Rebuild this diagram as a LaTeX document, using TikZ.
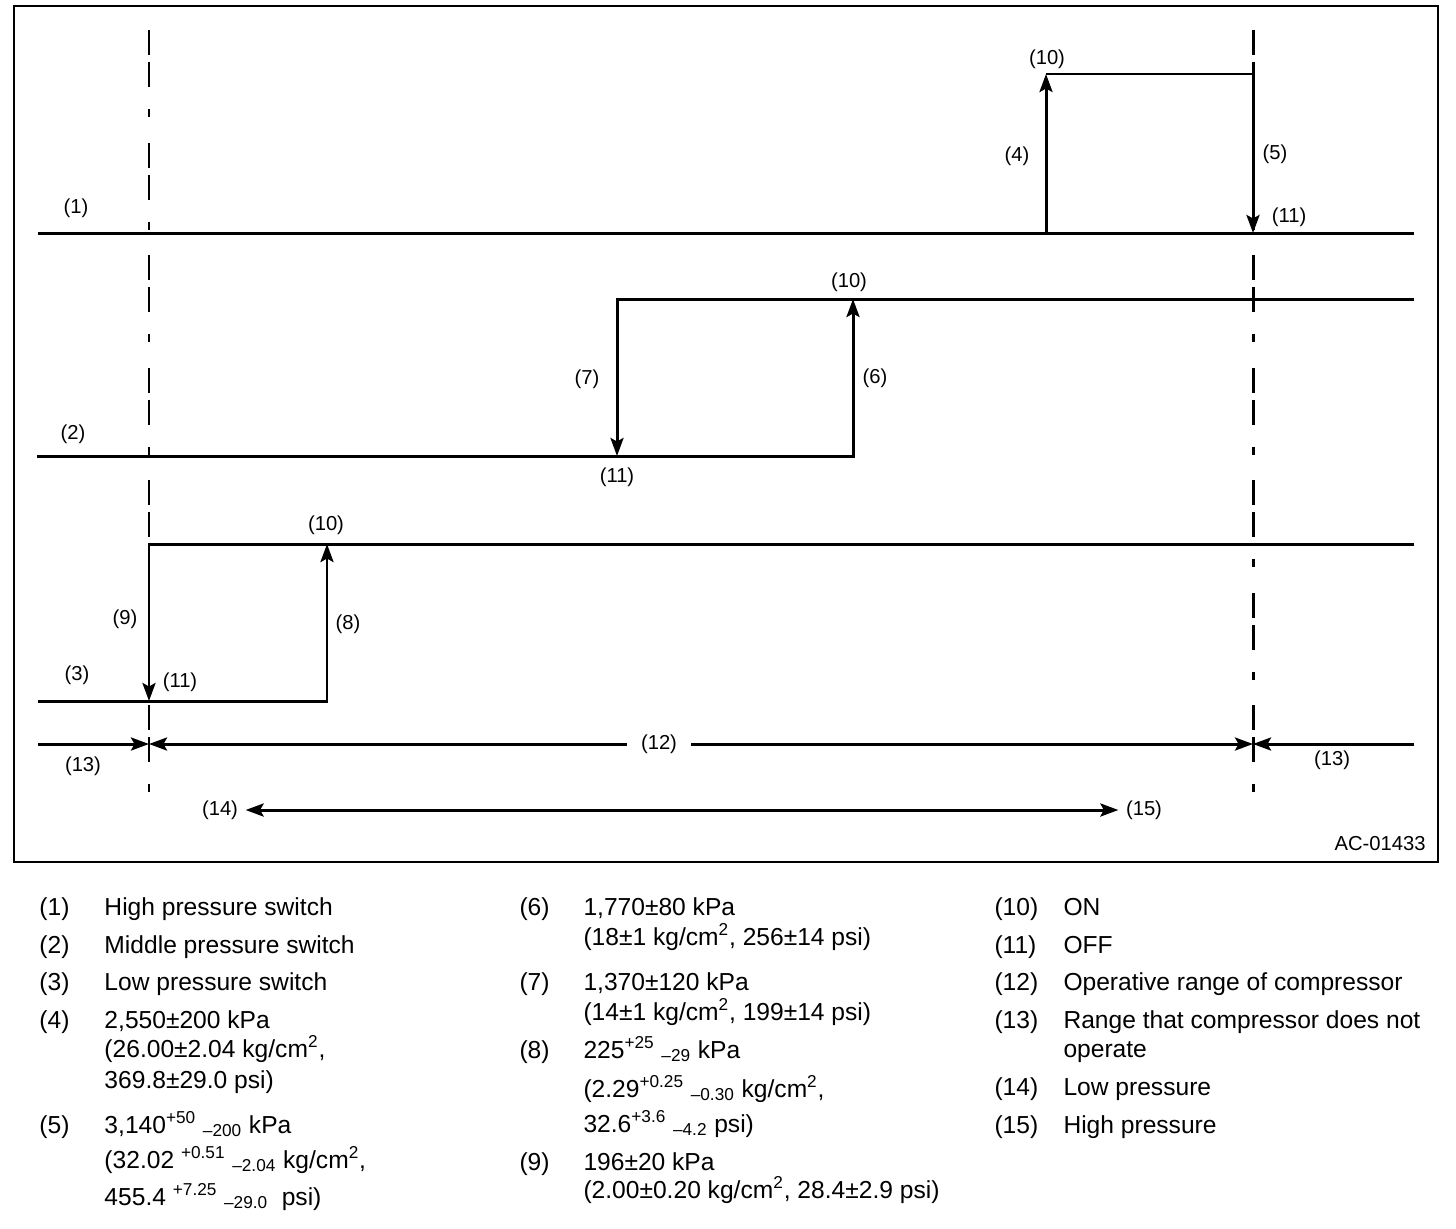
\documentclass[tikz,border=0pt]{standalone}
\usepackage{fontspec}
\setmainfont{Liberation Sans}
\usetikzlibrary{arrows.meta}

\begin{document}
\begin{tikzpicture}[
  x=0.02cm, y=-0.02cm,
  line width=1.7pt,
  >={Stealth[length=3.6mm, width=2.6mm, inset=0.7mm]},
  lbl/.style={font=\fontsize{11.5}{13}\selectfont, inner sep=1pt},
  leg/.style={anchor=base west, inner sep=0pt, font=\fontsize{14}{16}\selectfont},
  axisline/.style={dash pattern=on 5mm off 1.4mm on 5mm off 4.4mm on 1.6mm off 5.12mm},
]
\useasboundingbox (0,0) rectangle (1456,1228);
\draw[line width=1.2pt] (14,6) rectangle (1438,862);

% dash-dot limits of the operative range
\coordinate (a0) at (149,30);  \coordinate (a1) at (149,797);
\coordinate (b0) at (1253,30); \coordinate (b1) at (1253,797);
\draw[axisline] (a0) -- (a1);
\draw[axisline] (b0) -- (b1);

% high pressure switch
\coordinate (h0) at (38,233);    \coordinate (h1) at (1414,233);
\coordinate (hUp) at (1046,233); \coordinate (hOn) at (1046,74);
\coordinate (hOff) at (1253,74); \coordinate (hDn) at (1253,233);
\draw (h0) -- (h1);
\draw[->] (hUp) -- (hOn);
\draw[->] (hOn) -- (hOff) -- (hDn);

% middle pressure switch
\coordinate (m0) at (37,456);    \coordinate (mUp) at (853,456);
\coordinate (mOn) at (853,299);  \coordinate (mTop) at (1414,299);
\coordinate (mOff) at (617,299); \coordinate (mDn) at (617,456);
\draw[->] (m0) -- (mUp) -- (mOn);
\draw[->] (mTop) -- (mOff) -- (mDn);

% low pressure switch
\coordinate (l0) at (38,701);    \coordinate (lUp) at (327,701);
\coordinate (lOn) at (327,544);  \coordinate (lTop) at (1414,544);
\coordinate (lOff) at (149,544); \coordinate (lDn) at (149,701);
\draw[->] (l0) -- (lUp) -- (lOn);
\draw[->] (lTop) -- (lOff) -- (lDn);

% ranges
\coordinate (r0) at (38,744);  \coordinate (rA) at (149,744);
\coordinate (rB) at (1253,744); \coordinate (r1) at (1414,744);
\draw[->] (r0) -- (rA);
\draw[<->] (rA) -- (rB);
\draw[->] (r1) -- (rB);
\node[lbl, fill=white, inner xsep=8pt] (opr) at (659,744) {(12)};

\node[lbl, inner sep=3.5pt] (lowp) at (220,810) {(14)};
\node[lbl, inner sep=3.5pt] (highp) at (1144,810) {(15)};
\draw[<->] (lowp) -- (highp);

% labels
\node[lbl] (hsw) at (76,208) {(1)};
\node[lbl] (hon) at (1047,59) {(10)};
\node[lbl] (hupv) at (1017,156) {(4)};
\node[lbl] (hdnv) at (1275,154) {(5)};
\node[lbl] (hoff) at (1289,217) {(11)};
\node[lbl] (msw) at (73,434) {(2)};
\node[lbl] (mon) at (849,282) {(10)};
\node[lbl] (mdnv) at (587,379) {(7)};
\node[lbl] (mupv) at (875,378) {(6)};
\node[lbl] (moff) at (617,477) {(11)};
\node[lbl] (lsw) at (77,675) {(3)};
\node[lbl] (lon) at (326,525) {(10)};
\node[lbl] (ldnv) at (125,619) {(9)};
\node[lbl] (lupv) at (348,624) {(8)};
\node[lbl] (loff) at (180,682) {(11)};
\node[lbl] (offl) at (83,766) {(13)};
\node[lbl] (offr) at (1332,760) {(13)};
\node[lbl] (code) at (1380,844) {AC-01433};

% legend
\node[leg] (n1) at (38,915) {(1)};  \node[leg] (t1) at (103,915) {High pressure switch};
\node[leg] (n2) at (38,953) {(2)};  \node[leg] (t2) at (103,953) {Middle pressure switch};
\node[leg] (n3) at (38,990) {(3)};  \node[leg] (t3) at (103,990) {Low pressure switch};
\node[leg] (n4) at (38,1028) {(4)}; \node[leg] (t4) at (103,1028) {2,550±200 kPa};
\node[leg] (t4b) at (103,1057) {(26.00±2.04 kg/cm\textsuperscript{2},};
\node[leg] (t4c) at (103,1088) {369.8±29.0 psi)};
\node[leg] (n5) at (38,1133) {(5)}; \node[leg] (t5) at (103,1133) {3,140\textsuperscript{+50} \textsubscript{–200} kPa};
\node[leg] (t5b) at (103,1168) {(32.02 \textsuperscript{+0.51} \textsubscript{–2.04} kg/cm\textsuperscript{2},};
\node[leg] (t5c) at (103,1205) {455.4 \textsuperscript{+7.25} \textsubscript{–29.0}\ \ psi)};

\node[leg] (n6) at (518,915) {(6)};  \node[leg] (t6) at (582,915) {1,770±80 kPa};
\node[leg] (t6b) at (582,945) {(18±1 kg/cm\textsuperscript{2}, 256±14 psi)};
\node[leg] (n7) at (518,990) {(7)};  \node[leg] (t7) at (582,990) {1,370±120 kPa};
\node[leg] (t7b) at (582,1020) {(14±1 kg/cm\textsuperscript{2}, 199±14 psi)};
\node[leg] (n8) at (518,1058) {(8)}; \node[leg] (t8) at (582,1058) {225\textsuperscript{+25} \textsubscript{–29} kPa};
\node[leg] (t8b) at (582,1097) {(2.29\textsuperscript{+0.25} \textsubscript{–0.30} kg/cm\textsuperscript{2},};
\node[leg] (t8c) at (582,1132) {32.6\textsuperscript{+3.6} \textsubscript{–4.2} psi)};
\node[leg] (n9) at (518,1170) {(9)}; \node[leg] (t9) at (582,1170) {196±20 kPa};
\node[leg] (t9b) at (582,1198) {(2.00±0.20 kg/cm\textsuperscript{2}, 28.4±2.9 psi)};

\node[leg] (n10) at (993,915) {(10)};  \node[leg] (t10) at (1062,915) {ON};
\node[leg] (n11) at (993,953) {(11)};  \node[leg] (t11) at (1062,953) {OFF};
\node[leg] (n12) at (993,990) {(12)};  \node[leg] (t12) at (1062,990) {Operative range of compressor};
\node[leg] (n13) at (993,1028) {(13)}; \node[leg] (t13) at (1062,1028) {Range that compressor does not};
\node[leg] (t13b) at (1062,1057) {operate};
\node[leg] (n14) at (993,1095) {(14)}; \node[leg] (t14) at (1062,1095) {Low pressure};
\node[leg] (n15) at (993,1133) {(15)}; \node[leg] (t15) at (1062,1133) {High pressure};
\end{tikzpicture}
\end{document}
